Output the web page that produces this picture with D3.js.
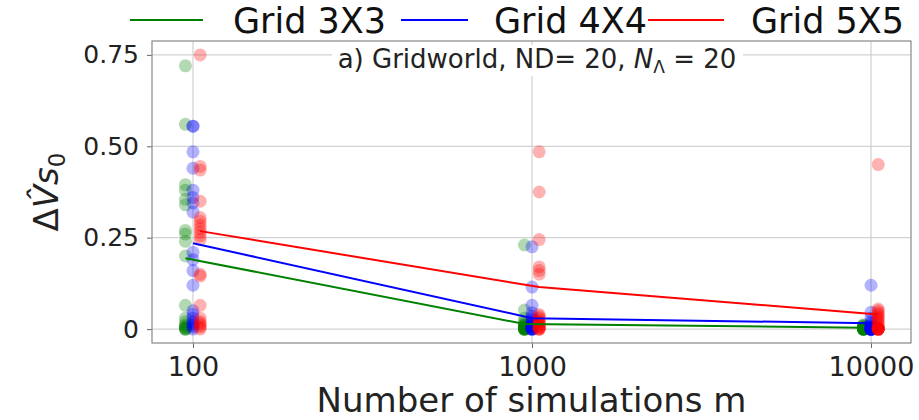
<!DOCTYPE html>
<html>
<head>
<meta charset="utf-8">
<script src="https://cdn.jsdelivr.net/npm/d3@7"></script>
<style>
  html, body { margin: 0; padding: 0; background: #fff; }
  svg { display: block; font-family: "DejaVu Sans", sans-serif; }
</style>
</head>
<body>
<svg id="chart" width="919" height="420"></svg>
<script>
// Number of simulations on the (log) x axis
const simulations = [100, 1000, 10000];
const seriesNames = ["Grid 3X3", "Grid 4X4", "Grid 5X5"];
const seriesColors = ["#008000", "#0000ff", "#ff0000"];

// Per-run errors (20 runs per setting) for each grid size
const grid3Runs = [
  [0.72, 0.56, 0.395, 0.38, 0.355, 0.34, 0.27, 0.26, 0.24, 0.20, 0.065, 0.03, 0.02, 0.012, 0.008, 0.005, 0.003, 0.0, 0.0, 0.0],
  [0.23, 0.052, 0.03, 0.02, 0.015, 0.012, 0.01, 0.008, 0.006, 0.005, 0.004, 0.003, 0.002, 0.001, 0.0, 0.0, 0.0, 0.0, 0.0, 0.0],
  [0.012, 0.01, 0.008, 0.006, 0.005, 0.004, 0.003, 0.002, 0.002, 0.001, 0.001, 0.0, 0.0, 0.0, 0.0, 0.0, 0.0, 0.0, 0.0, 0.0]
];
const grid4Runs = [
  [0.555, 0.555, 0.485, 0.44, 0.38, 0.36, 0.345, 0.32, 0.21, 0.19, 0.16, 0.12, 0.05, 0.04, 0.03, 0.02, 0.015, 0.01, 0.005, 0.0],
  [0.225, 0.115, 0.065, 0.045, 0.035, 0.03, 0.025, 0.02, 0.015, 0.012, 0.01, 0.008, 0.005, 0.003, 0.002, 0.0, 0.0, 0.0, 0.0, 0.0],
  [0.12, 0.046, 0.03, 0.02, 0.015, 0.01, 0.008, 0.005, 0.003, 0.0, 0.0, 0.0, 0.0, 0.0, 0.0, 0.0, 0.0, 0.0, 0.0, 0.0]
];
const grid5Runs = [
  [0.75, 0.445, 0.435, 0.35, 0.305, 0.295, 0.285, 0.275, 0.265, 0.255, 0.245, 0.15, 0.145, 0.065, 0.03, 0.02, 0.015, 0.01, 0.005, 0.0],
  [0.485, 0.375, 0.245, 0.17, 0.16, 0.15, 0.04, 0.035, 0.03, 0.025, 0.02, 0.018, 0.015, 0.01, 0.008, 0.005, 0.003, 0.0, 0.0, 0.0],
  [0.45, 0.055, 0.05, 0.045, 0.04, 0.035, 0.03, 0.025, 0.02, 0.015, 0.01, 0.005, 0.0, 0.0, 0.0, 0.0, 0.0, 0.0, 0.0, 0.0]
];

// Mean error per setting, drawn as the connecting lines
const grid3Mean = [0.194, 0.014, 0.004];
const grid4Mean = [0.235, 0.03, 0.016];
const grid5Mean = [0.268, 0.115, 0.04];

const yTicks = [0, 0.25, 0.5, 0.75];
const yTickLabels = ["0", "0.25", "0.50", "0.75"];
const xTickLabels = ["100", "1000", "10000"];

// Small horizontal spread so the three grids do not overlap
const dodge = [0.95, 1.0, 1.05];

const runs = [grid3Runs, grid4Runs, grid5Runs];
const means = [grid3Mean, grid4Mean, grid5Mean];

const svg = d3.select("#chart");
const plot = { left: 152, right: 911, top: 41, bottom: 343 };

const x = d3.scaleLog().domain([75.7, 13120]).range([plot.left, plot.right]);
const y = d3.scaleLinear().domain([-0.038, 0.788]).range([plot.bottom, plot.top]);

// Grid lines
const grid = svg.append("g").attr("stroke", "#c8c8c8").attr("stroke-width", 1);
grid.selectAll("line.v").data(simulations).join("line")
  .attr("x1", d => x(d)).attr("x2", d => x(d))
  .attr("y1", plot.top).attr("y2", plot.bottom);
grid.selectAll("line.h").data(yTicks).join("line")
  .attr("x1", plot.left).attr("x2", plot.right)
  .attr("y1", d => y(d)).attr("y2", d => y(d));

// Axes
const xAxis = d3.axisBottom(x).tickValues(simulations)
  .tickFormat((d, i) => xTickLabels[i]).tickSize(5);
const yAxis = d3.axisLeft(y).tickValues(yTicks)
  .tickFormat((d, i) => yTickLabels[i]).tickSize(5).tickPadding(8);

const gx = svg.append("g").attr("transform", `translate(0,${plot.bottom})`).call(xAxis);
const gy = svg.append("g").attr("transform", `translate(${plot.left},0)`).call(yAxis);
[gx, gy].forEach(g => {
  g.select(".domain").remove();
  g.selectAll(".tick line").attr("stroke", "#666");
  g.selectAll(".tick text").attr("fill", "#222").attr("font-family", "DejaVu Sans");
});
gx.selectAll(".tick text").attr("font-size", 27).attr("dy", null).attr("y", 33);
gy.selectAll(".tick text").attr("font-size", 25);

// Scatter of individual runs
runs.forEach((seriesRuns, s) => {
  const pts = [];
  seriesRuns.forEach((vals, i) => vals.forEach(v => pts.push({ m: simulations[i] * dodge[s], v })));
  svg.append("g").selectAll("circle").data(pts).join("circle")
    .attr("cx", d => x(d.m)).attr("cy", d => y(d.v)).attr("r", 6.5)
    .attr("fill", seriesColors[s]).attr("fill-opacity", 0.3);
});

// Mean lines
const line = d3.line().x(d => x(d.m)).y(d => y(d.v));
means.forEach((vals, s) => {
  svg.append("path")
    .datum(vals.map((v, i) => ({ m: simulations[i] * dodge[s], v })))
    .attr("d", line).attr("fill", "none")
    .attr("stroke", seriesColors[s]).attr("stroke-width", 2);
});

// Frame
svg.append("rect")
  .attr("x", plot.left).attr("y", plot.top)
  .attr("width", plot.right - plot.left).attr("height", plot.bottom - plot.top)
  .attr("fill", "none").attr("stroke", "#888").attr("stroke-width", 1.2);

// Panel title in a white box
svg.append("rect").attr("x", 332).attr("y", 45).attr("width", 411).attr("height", 31).attr("fill", "#fff");
const title = svg.append("text").attr("x", 537).attr("y", 68)
  .attr("text-anchor", "middle").attr("font-size", 26).attr("fill", "#222");
title.append("tspan").text("a) Gridworld, ND= 20, ");
title.append("tspan").attr("font-style", "italic").text("N");
title.append("tspan").attr("font-size", 17).attr("dy", 5).text("Λ");
title.append("tspan").attr("dy", -5).text(" = 20");

// Axis labels
svg.append("text").attr("x", (plot.left + plot.right) / 2).attr("y", 412)
  .attr("text-anchor", "middle").attr("font-size", 34).attr("fill", "#222")
  .text("Number of simulations m");

const yl = svg.append("text")
  .attr("transform", "translate(58,192) rotate(-90)")
  .attr("text-anchor", "middle").attr("font-size", 34).attr("fill", "#222");
yl.append("tspan").text("Δ");
yl.append("tspan").attr("font-style", "italic").text("V\u0302");
yl.append("tspan").attr("font-style", "italic").text("s");
yl.append("tspan").attr("font-size", 23).attr("dy", 7).text("0");

// Legend above the plot
const legendItems = [
  { x1: 130, x2: 203, tx: 233 },
  { x1: 401, x2: 468, tx: 494 },
  { x1: 648, x2: 724, tx: 751 }
];
const legend = svg.append("g");
legendItems.forEach((it, i) => {
  legend.append("line").attr("x1", it.x1).attr("x2", it.x2).attr("y1", 20).attr("y2", 20)
    .attr("stroke", seriesColors[i]).attr("stroke-width", 2);
  legend.append("text").attr("x", it.tx).attr("y", 33).attr("font-size", 35).attr("fill", "#111")
    .text(seriesNames[i]);
});
</script>
</body>
</html>
